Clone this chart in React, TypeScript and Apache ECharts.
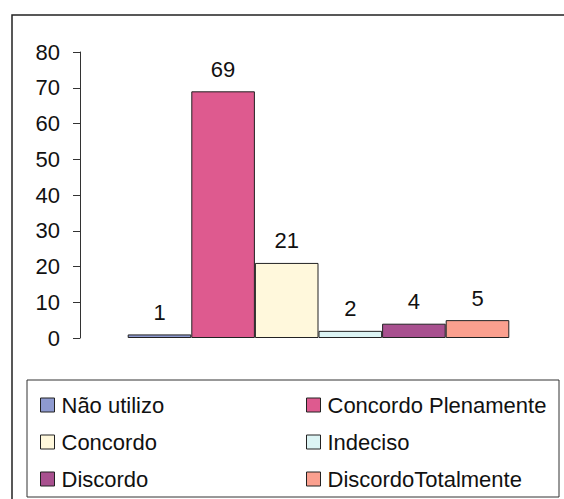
import React, { useEffect, useRef } from "react";
import * as echarts from "echarts";

const categories = ["Resposta"];
const seriesNames = [
  "Não utilizo",
  "Concordo Plenamente",
  "Concordo",
  "Indeciso",
  "Discordo",
  "DiscordoTotalmente",
];
const seriesValues = [1, 69, 21, 2, 4, 5];
const seriesColors = ["#8e9ad0", "#de5a8f", "#fff8dc", "#dcf4f4", "#a8508f", "#fba08f"];
const yTicks = [0, 10, 20, 30, 40, 50, 60, 70, 80];
const leftLegend = ["Não utilizo", "Concordo", "Discordo"];
const rightLegend = ["Concordo Plenamente", "Indeciso", "DiscordoTotalmente"];

const FONT = 'Arial, "Liberation Sans", sans-serif';

export default function App() {
  const ref = useRef<HTMLDivElement>(null);
  useEffect(() => {
    if (!ref.current) return;
    const chart = echarts.init(ref.current, null, { renderer: "svg" });
    const legendCommon = {
      orient: "vertical" as const,
      icon: "rect",
      itemWidth: 14,
      itemHeight: 14,
      itemGap: 15,
      top: 389,
      selectedMode: false,
      itemStyle: { borderColor: "#222", borderWidth: 1 },
      textStyle: {
        fontSize: 22,
        fontFamily: FONT,
        color: "#111",
        lineHeight: 22,
        padding: [0, 0, 0, 2],
      },
    };
    chart.setOption({
      animation: false,
      backgroundColor: "#ffffff",
      textStyle: { fontFamily: FONT },
      graphic: [
        {
          type: "rect",
          shape: { x: 12, y: 15, width: 700, height: 600 },
          style: { fill: "none", stroke: "#222", lineWidth: 1.5 },
          silent: true,
        },
        {
          type: "rect",
          shape: { x: 27, y: 380, width: 532, height: 117 },
          style: { fill: "none", stroke: "#333", lineWidth: 1 },
          silent: true,
        },
      ],
      legend: [
        { ...legendCommon, left: 35, data: leftLegend },
        { ...legendCommon, left: 301, data: rightLegend },
      ],
      grid: { left: 80, right: 7, top: 52, bottom: 161, containLabel: false },
      xAxis: {
        type: "category",
        data: categories,
        axisLine: { show: false },
        axisTick: { show: false },
        axisLabel: { show: false },
        splitLine: { show: false },
      },
      yAxis: {
        type: "value",
        min: yTicks[0],
        max: yTicks[yTicks.length - 1],
        interval: 10,
        axisLine: { show: true, lineStyle: { color: "#333", width: 1 } },
        axisTick: { show: true, length: 7, lineStyle: { color: "#333" } },
        axisLabel: { fontSize: 22, color: "#111", margin: 20, fontFamily: FONT },
        splitLine: { show: false },
      },
      series: seriesNames.map((name, i) => ({
        name,
        type: "bar",
        data: [seriesValues[i]],
        barGap: "0%",
        barCategoryGap: "20%",
        itemStyle: { color: seriesColors[i], borderColor: "#222", borderWidth: 1 },
        label: {
          show: true,
          position: "top",
          distance: 11,
          fontSize: 22,
          color: "#111",
          fontFamily: FONT,
        },
      })),
    });
    return () => chart.dispose();
  }, []);
  return (
    <div
      ref={ref}
      style={{ position: "fixed", left: 0, top: 0, width: 564, height: 499 }}
    />
  );
}
